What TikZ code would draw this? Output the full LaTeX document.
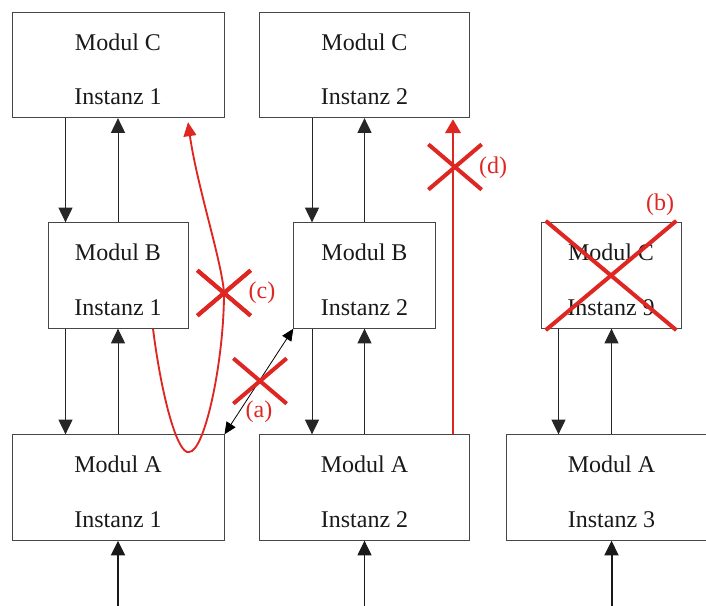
\documentclass[tikz,border=0pt]{standalone}
\usepackage{fontspec}
\setmainfont{Liberation Serif}
\usetikzlibrary{calc,arrows.meta,shapes.misc}
\definecolor{markred}{RGB}{222,38,34}
\definecolor{boxgray}{RGB}{70,70,70}
\tikzset{
  modbox/.style={draw=boxgray, line width=0.75pt, minimum width=#1, minimum height=79pt,
    inner sep=0pt, align=center, text=black!90, font=\fontsize{18}{41}\selectfont,
    text height=60pt, text depth=0pt},
  flow/.style={line width=0.75pt, draw=black!85, -{Triangle[length=11pt,width=10.5pt]}},
  feed/.style={line width=#1, draw=black!90, -{Triangle[length=11pt,width=10.5pt]}},
  redline/.style={line width=#1, draw=markred},
  crossmark/.style 2 args={cross out, draw=markred, line width=3pt, inner sep=0pt,
    minimum width=#1, minimum height=#2},
  marklabel/.style={text=markred, inner sep=0pt, font=\fontsize{18}{20}\selectfont}
}
\begin{document}
\begin{tikzpicture}[x=0.75pt, y=-0.75pt]
  \useasboundingbox (0,0) rectangle (706,606);
  % Modul C
  \node[modbox=159pt] (c1) at (118,65) {Modul C\\Instanz 1};
  \node[modbox=158pt] (c2) at (364.5,65) {Modul C\\Instanz 2};
  % Modul B
  \node[modbox=105pt] (b1) at (118,275.5) {Modul B\\Instanz 1};
  \node[modbox=106pt] (b2) at (364.5,275.5) {Modul B\\Instanz 2};
  \node[modbox=105pt] (c9) at (611,275.5) {Modul C\\Instanz 9};
  % Modul A
  \node[modbox=159pt] (a1) at (118,487.5) {Modul A\\Instanz 1};
  \node[modbox=158pt] (a2) at (364.5,487.5) {Modul A\\Instanz 2};
  \node[modbox=158pt] (a3) at (611.5,487.5) {Modul A\\Instanz 3};

  % Aufrufe zwischen den Instanzen
  \foreach \hi/\lo in {c1/b1, b1/a1, c2/b2, b2/a2, c9/a3}{
    \coordinate (dn) at ($(\hi.south)+(-52.5,0)$);
    \draw[flow] (dn) -- (dn |- \lo.north);
    \draw[flow] (\lo.north) -- (\lo.north |- \hi.south);
  }

  % Eingaenge von unten
  \foreach \m/\w in {a1/1.5pt, a2/0.9pt, a3/1.5pt}{
    \coordinate (in) at ($(\m.south)+(0,70)$);
    \draw[feed=\w] (in) -- (\m.south);
  }

  % (a)
  \draw[line width=0.6pt, {Triangle[length=9pt,width=8pt]}-{Triangle[length=9pt,width=8pt]}]
    (a1.north east) -- (b2.south west);
  \node[crossmark={37pt}{31pt}] (xa) at (260,381) {};
  \node[marklabel] (la) at (259,412) {(a)};

  % (c)
  \node[crossmark={37pt}{31pt}] (xc) at (224,293) {};
  \coordinate (rs) at ($(b1.south)+(35,0)$);
  \coordinate (re) at ($(c1.south)+(70,4)$);
  \draw[redline=1.4pt, -{Triangle[length=10.5pt,width=9.5pt]}]
    (rs) .. controls (162,400) and (178,455) .. (189,452)
    .. controls (205,452) and (224,360) .. (xc.center)
    .. controls (222,262) and (197,186) .. (re);
  \node[crossmark={37pt}{31pt}] at (xc) {};
  \node[marklabel] (lc) at (262,293) {(c)};

  % (d)
  \draw[redline=2.2pt, -{Triangle[length=10.5pt,width=11.5pt]}]
    ($(a2.north)+(88.5,0)$) -- ($(c2.south)+(88.5,1)$);
  \node[crossmark={37pt}{31pt}] (xd) at (455,167) {};
  \node[marklabel] (ld) at (493,168) {(d)};

  % (b)
  \node[crossmark={95pt}{79pt}] (xb) at (c9) {};
  \node[marklabel] (lb) at (660,205) {(b)};
\end{tikzpicture}
\end{document}
